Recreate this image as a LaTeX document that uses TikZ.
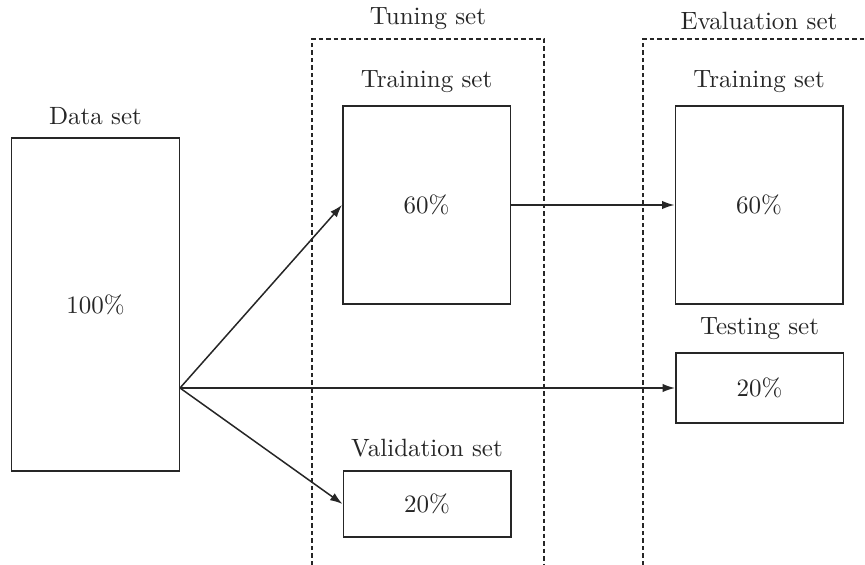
\documentclass[tikz,border=0pt]{standalone}
\usepackage{tikz}
\usetikzlibrary{arrows.meta,positioning,calc}
\definecolor{ink}{HTML}{262626}

\begin{document}
\begin{tikzpicture}[x=0.4pt,y=-0.4pt,node distance=2pt,every node/.style={font=\normalsize,text=ink},box/.style={draw=ink,semithick,minimum width=67pt,inner sep=0pt},lbl/.style={inner sep=3pt},arr/.style={-{Latex[length=5pt,width=3.4pt]},ink,semithick},frame/.style={ink,semithick,dash pattern=on 1.8pt off 1.2pt}]
\useasboundingbox (0,0) rectangle (865,565);
\node[box,minimum height=133pt] (data) at (95.5,304.5) {100\%};
\node[box,minimum height=79pt] (train) at (426.5,205) {60\%};
\node[box,minimum height=26.5pt] (valid) at (427,504) {20\%};
\node[box,minimum height=79pt] (evaltrain) at (759,205) {60\%};
\node[box,minimum height=28pt] (test) at (759.5,388) {20\%};
\node[lbl,above=of data] (datalbl) {Data set};
\node[lbl,above=of train] (trainlbl) {Training set};
\node[lbl,above=of valid] (validlbl) {Validation set};
\node[lbl,above=of evaltrain] (evaltrainlbl) {Training set};
\node[lbl,above=of test] (testlbl) {Testing set};
% dashed groups, open at the bottom
\draw[frame] (312,565) -- (312,39) -- (544,39) -- (544,565);
\draw[frame] (643,565) -- (643,39) -- (865,39);
\node[lbl,anchor=south] (tunelbl) at (428,38) {Tuning set};
\node[lbl,anchor=south] (evallbl) at (759,38) {Evaluation set};
\coordinate (split) at (data.east |- test.west);
\draw[arr] (split) -- (train.west);
\draw[arr] (split) -- (test.west);
\draw[arr] (split) -- (valid.west);
\draw[arr] (train.east) -- (evaltrain.west);
\end{tikzpicture}
\end{document}
